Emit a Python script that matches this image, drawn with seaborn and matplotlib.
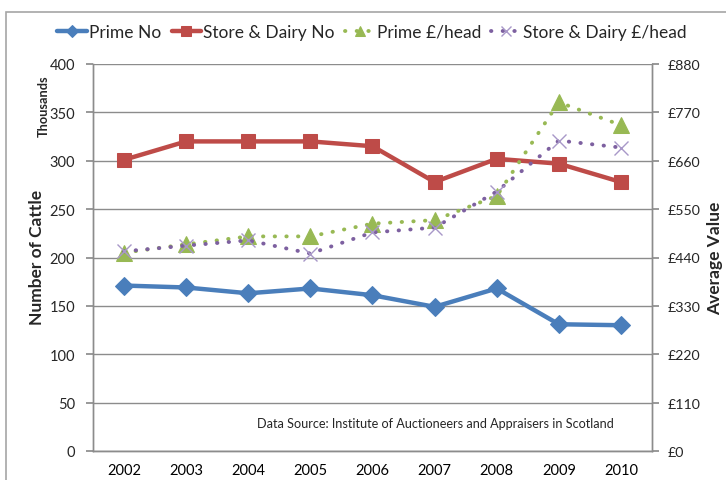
import matplotlib
matplotlib.use("Agg")
import matplotlib.pyplot as plt
from matplotlib.patches import Rectangle
from matplotlib.ticker import MultipleLocator, FuncFormatter
import seaborn as sns
import pandas as pd

years = [2002, 2003, 2004, 2005, 2006, 2007, 2008, 2009, 2010]
prime_no = [171, 169, 163, 168, 161, 149, 168, 131, 130]          # thousands
store_dairy_no = [301, 320, 320, 320, 315, 278, 302, 297, 278]    # thousands
prime_value = [451, 470, 488, 488, 517, 525, 580, 793, 741]       # £ per head
store_dairy_value = [454, 467, 479, 449, 497, 508, 590, 706, 690] # £ per head

df = pd.DataFrame({
    "year": years,
    "Prime No": prime_no,
    "Store & Dairy No": store_dairy_no,
    "Prime £/head": prime_value,
    "Store & Dairy £/head": store_dairy_value,
})

sns.set_theme(style="white")
plt.rcParams["font.family"] = ["Lato", "DejaVu Sans"]

W, H = 726, 481
fig = plt.figure(figsize=(W / 100, H / 100), dpi=100)

# outer chart frame
fig.patches.append(Rectangle((6 / W, -0.05), 1.2, 1.05 - 13 / H, transform=fig.transFigure,
                             fill=False, edgecolor="#a6a6a6", linewidth=1.2))

ax = fig.add_axes([93 / W, (H - 452) / H, (652 - 93) / W, (452 - 65) / H])
ax2 = ax.twinx()

blue, red, green, purple = "#4a7ebb", "#be4b48", "#98b954", "#7d60a0"
dots = (0, (0.1, 2.9))

sns.lineplot(data=df, x="year", y="Prime No", ax=ax, color=blue, linewidth=3.2,
             marker="D", markersize=9, markeredgecolor=blue, label="Prime No", legend=False)
sns.lineplot(data=df, x="year", y="Store & Dairy No", ax=ax, color=red, linewidth=3.2,
             marker="s", markersize=10, markeredgecolor=red, label="Store & Dairy No", legend=False)
sns.lineplot(data=df, x="year", y="Prime £/head", ax=ax2, color=green, linewidth=2.8,
             linestyle=dots, dash_capstyle="round",
             marker="^", markersize=11, markeredgecolor=green, label="Prime £/head", legend=False)
sns.lineplot(data=df, x="year", y="Store & Dairy £/head", ax=ax2, color=purple, linewidth=2.8,
             linestyle=dots, dash_capstyle="round",
             marker="x", markersize=10, markeredgewidth=1.0, markeredgecolor="#a898c8",
             label="Store & Dairy £/head", legend=False)

ax.set_xlim(2001.5, 2010.5)
ax.set_ylim(0, 400)
ax2.set_ylim(0, 880)
ax.yaxis.set_major_locator(MultipleLocator(50))
ax2.yaxis.set_major_locator(MultipleLocator(110))
ax2.yaxis.set_major_formatter(FuncFormatter(lambda v, p: f"£{int(v)}"))
ax.set_xticks(years)
ax.set_xticks([y + 0.5 for y in [2001] + years], minor=True)

grid_c = "#8c8c8c"
ax.grid(axis="y", color=grid_c, linewidth=1.0)
ax.set_axisbelow(True)
for a in (ax, ax2):
    for s in a.spines.values():
        s.set_color(grid_c)
        s.set_linewidth(1.0)
    a.spines["top"].set_visible(False)
    a.set_xlabel("")
    a.set_ylabel("")

ax.tick_params(axis="x", which="major", length=0, labelsize=10.5, pad=9, colors="black")
ax.tick_params(axis="x", which="minor", length=5, color=grid_c, direction="out")
ax.tick_params(axis="y", length=5, color=grid_c, direction="out", labelsize=10.5, pad=8)
ax2.tick_params(axis="y", length=5, color=grid_c, direction="out", labelsize=10.2, pad=6)

fig.text(37 / W, 1 - 257 / H, "Number of Cattle", rotation=90, ha="center", va="center",
         fontsize=12.5, fontweight="bold")
fig.text(44 / W, 1 - 106 / H, "Thousands", rotation=90, ha="center", va="center",
         fontsize=9.2, fontweight="bold")
fig.text(715 / W, 1 - 258 / H, "Average Value", rotation=90, ha="center", va="center",
         fontsize=12.5, fontweight="bold")
fig.text(435 / W, 1 - 424 / H, "Data Source: Institute of Auctioneers and Appraisers in Scotland",
         ha="center", va="center", fontsize=9.1)

h1, l1 = ax.get_legend_handles_labels()
h2, l2 = ax2.get_legend_handles_labels()
fig.legend(h1 + h2, l1 + l2, loc="center", bbox_to_anchor=(372 / W, 1 - 33 / H), ncol=4,
           frameon=False, fontsize=12.5, handlelength=1.7, handletextpad=0.12,
           columnspacing=0.6, markerscale=0.7)

fig.savefig("out.png", dpi=100)
